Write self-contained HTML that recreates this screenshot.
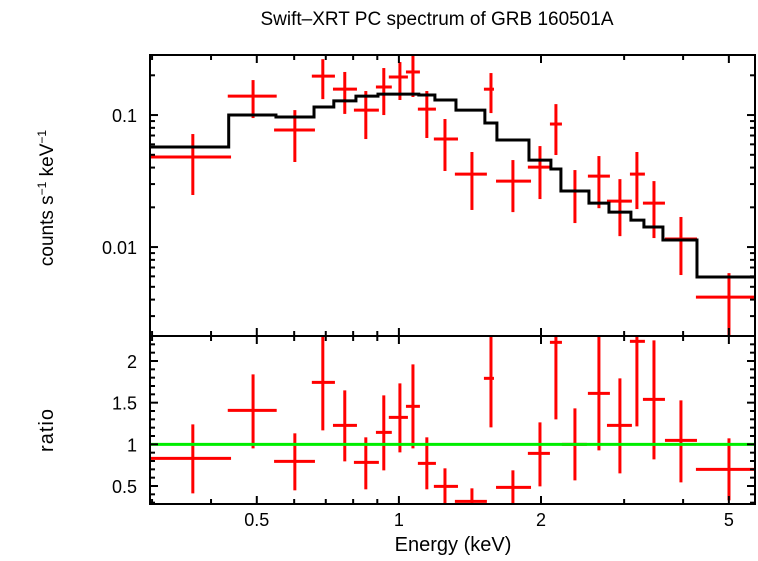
<!DOCTYPE html>
<html><head><meta charset="utf-8"><style>
html,body{margin:0;padding:0;background:#fff;}
svg text{font-family:"Liberation Sans",sans-serif;fill:#000;}
</style></head><body>
<svg id="chart" width="758" height="556" viewBox="0 0 758 556" xmlns="http://www.w3.org/2000/svg">
<defs>
<clipPath id="clipTop"><rect x="150" y="55" width="605" height="281"/></clipPath>
<clipPath id="clipBot"><rect x="150" y="336" width="605" height="168"/></clipPath>
</defs>
<text x="437" y="25" font-size="19" text-anchor="middle">Swift–XRT PC spectrum of GRB 160501A</text>
<text transform="translate(53,198) rotate(-90)" font-size="19" text-anchor="middle">counts s<tspan font-size="12" dy="-7">−1</tspan><tspan dy="7"> keV</tspan><tspan font-size="12" dy="-7">−1</tspan></text>
<text transform="translate(53,430) rotate(-90)" font-size="20" text-anchor="middle" letter-spacing="1">ratio</text>
<text x="453" y="551" font-size="20" text-anchor="middle">Energy (keV)</text>
<g id="topPanel" clip-path="url(#clipTop)"></g>
<g id="botPanel" clip-path="url(#clipBot)"></g>
<g id="axes"></g>
</svg>
<script>
const binLo=[0.297,0.434,0.544,0.654,0.725,0.803,0.894,0.952,1.035,1.097,1.186,1.314,1.514,1.606,1.876,2.089,2.215,2.514,2.759,3.086,3.288,3.661,4.258];
const binHi=[0.441,0.551,0.664,0.732,0.815,0.907,0.966,1.045,1.108,1.198,1.334,1.536,1.590,1.905,2.089,2.215,2.502,2.799,3.116,3.320,3.661,4.280,5.679];
const binCenter=[0.366,0.491,0.602,0.690,0.768,0.851,0.929,1.005,1.071,1.146,1.252,1.428,1.567,1.744,1.990,2.151,2.360,2.653,2.939,3.193,3.470,3.958,5.003];
const counts=[0.0481,0.139,0.0770,0.197,0.157,0.109,0.163,0.194,0.212,0.111,0.0658,0.0357,0.157,0.0316,0.0403,0.0855,0.0266,0.0345,0.0223,0.0357,0.0215,0.0115,0.00418];
const countsHi=[0.0718,0.184,0.109,0.265,0.212,0.152,0.227,0.252,0.285,0.152,0.0933,0.0525,0.208,0.0456,0.0582,0.121,0.0383,0.0489,0.0327,0.0525,0.0316,0.0169,0.00635];
const countsLo=[0.0248,0.0949,0.0441,0.132,0.102,0.0658,0.100,0.130,0.137,0.0670,0.0377,0.0191,0.1035,0.0184,0.0231,0.0498,0.0152,0.0197,0.0121,0.0194,0.0117,0.00614,0.0018];
const ratio=[0.832,1.408,0.796,1.744,1.228,0.784,1.144,1.324,1.456,0.772,0.496,0.316,1.792,0.484,0.892,2.224,1.0,1.612,1.228,2.236,1.540,1.048,0.700];
const ratioHi=[1.240,1.840,1.132,2.6,1.648,1.084,1.588,1.732,1.960,1.084,0.712,0.472,2.6,0.688,1.264,2.6,1.432,2.6,1.792,2.6,2.248,1.528,1.072];
const ratioLo=[0.412,0.952,0.448,1.168,0.796,0.460,0.688,0.904,0.952,0.460,0.28,0.24,1.204,0.256,0.496,1.300,0.568,0.928,0.652,1.216,0.820,0.544,0.328];
const modelEdges=[0.297,0.436,0.549,0.661,0.728,0.811,0.903,1.102,1.192,1.321,1.521,1.613,1.886,2.099,2.204,2.527,2.786,3.101,3.304,3.625,4.280,5.679];
const modelVals=[0.0573,0.1,0.0966,0.115,0.128,0.139,0.144,0.142,0.130,0.109,0.0870,0.0647,0.0456,0.0390,0.0266,0.0215,0.0184,0.0160,0.0142,0.0113,0.00593];
const xMajor=[0.5,1,2,5];
const xMajorLabels=["0.5","1","2","5"];
const xMinor=[0.3,0.4,0.6,0.7,0.8,0.9,3,4];
const yTopMajor=[0.01,0.1];
const yTopLabels=["0.01","0.1"];
const yRatioMajor=[0.5,1,1.5,2];
const yRatioLabels=["0.5","1","1.5","2"];

const X0=150,X1=755,T0=55,T1=336,B1=504;
const xLogMin=Math.log10(0.297),xLogMax=Math.log10(5.68);
const sx=e=>X0+(Math.log10(e)-xLogMin)/(xLogMax-xLogMin)*(X1-X0);
const yLogMin=Math.log10(0.00212),yLogMax=Math.log10(0.285);
const sy=v=>T1-(Math.log10(v)-yLogMin)/(yLogMax-yLogMin)*(T1-T0);
const rMin=0.284,rMax=2.3;
const sr=v=>B1-(v-rMin)/(rMax-rMin)*(B1-T1);
const NS="http://www.w3.org/2000/svg";
function mk(tag,attrs,parent){const el=document.createElementNS(NS,tag);for(const k in attrs)el.setAttribute(k,attrs[k]);parent.appendChild(el);return el;}
const topG=document.getElementById('topPanel'),botG=document.getElementById('botPanel'),axes=document.getElementById('axes');

for(let i=0;i<binCenter.length;i++){
  const g=mk('g',{stroke:'#ff0000','stroke-width':3},topG);
  
  
  mk('line',{x1:sx(binLo[i]),x2:sx(binHi[i]),y1:sy(counts[i]),y2:sy(counts[i])},g);
  mk('line',{x1:sx(binCenter[i]),x2:sx(binCenter[i]),y1:sy(countsLo[i]),y2:sy(countsHi[i])},g);
  const h=mk('g',{stroke:'#ff0000','stroke-width':3},botG);
  
  
  mk('line',{x1:sx(binLo[i]),x2:sx(binHi[i]),y1:sr(ratio[i]),y2:sr(ratio[i])},h);
  mk('line',{x1:sx(binCenter[i]),x2:sx(binCenter[i]),y1:sr(ratioLo[i]),y2:sr(ratioHi[i])},h);
}
let d="";
for(let i=0;i<modelVals.length;i++){const xa=sx(modelEdges[i]),xb=sx(modelEdges[i+1]),y=sy(modelVals[i]);d+=(i===0?"M":"L")+xa+","+y+"L"+xb+","+y;}
const mp=mk('path',{d:d,fill:'none',stroke:'#000','stroke-width':3},topG);


const gl=mk('line',{x1:X0,x2:X1,y1:sr(1),y2:sr(1),stroke:'#00ee00','stroke-width':3},botG);



const f1=mk('rect',{x:X0,y:T0,width:X1-X0,height:T1-T0,fill:'none',stroke:'#000','stroke-width':2},axes);


const f2=mk('rect',{x:X0,y:T1,width:X1-X0,height:B1-T1,fill:'none',stroke:'#000','stroke-width':2},axes);


function tick(x1,y1,x2,y2){mk('line',{x1:x1,y1:y1,x2:x2,y2:y2,stroke:'#000','stroke-width':2},axes);}
[[T0,T1],[T1,B1]].forEach(([a,b])=>{
  xMajor.forEach(e=>{const x=sx(e);tick(x,a,x,a+8);tick(x,b,x,b-8);});
  xMinor.forEach(e=>{const x=sx(e);tick(x,a,x,a+5);tick(x,b,x,b-5);});
});
xMajor.forEach((e,i)=>{const t=mk('text',{x:sx(e),y:526,'font-size':18,'text-anchor':'middle'},axes);t.textContent=xMajorLabels[i];
  
  });
for(let dec=0.001;dec<1;dec*=10){for(let m=1;m<10;m++){const v=dec*m;if(v<0.00212||v>0.285)continue;const y=sy(v);const L=m===1?8:5;tick(X0,y,X0+L,y);tick(X1,y,X1-L,y);}}
yTopMajor.forEach((v,i)=>{const t=mk('text',{x:137,y:sy(v)+7,'font-size':18,'text-anchor':'end'},axes);t.textContent=yTopLabels[i];
  
  });
for(let k=3;k<=23;k++){const v=k/10;const y=sr(v);const L=(k%5===0)?8:5;tick(X0,y,X0+L,y);tick(X1,y,X1-L,y);}
yRatioMajor.forEach((v,i)=>{const t=mk('text',{x:137,y:sr(v)+7,'font-size':18,'text-anchor':'end'},axes);t.textContent=yRatioLabels[i];
  
  });
</script>
</body></html>
